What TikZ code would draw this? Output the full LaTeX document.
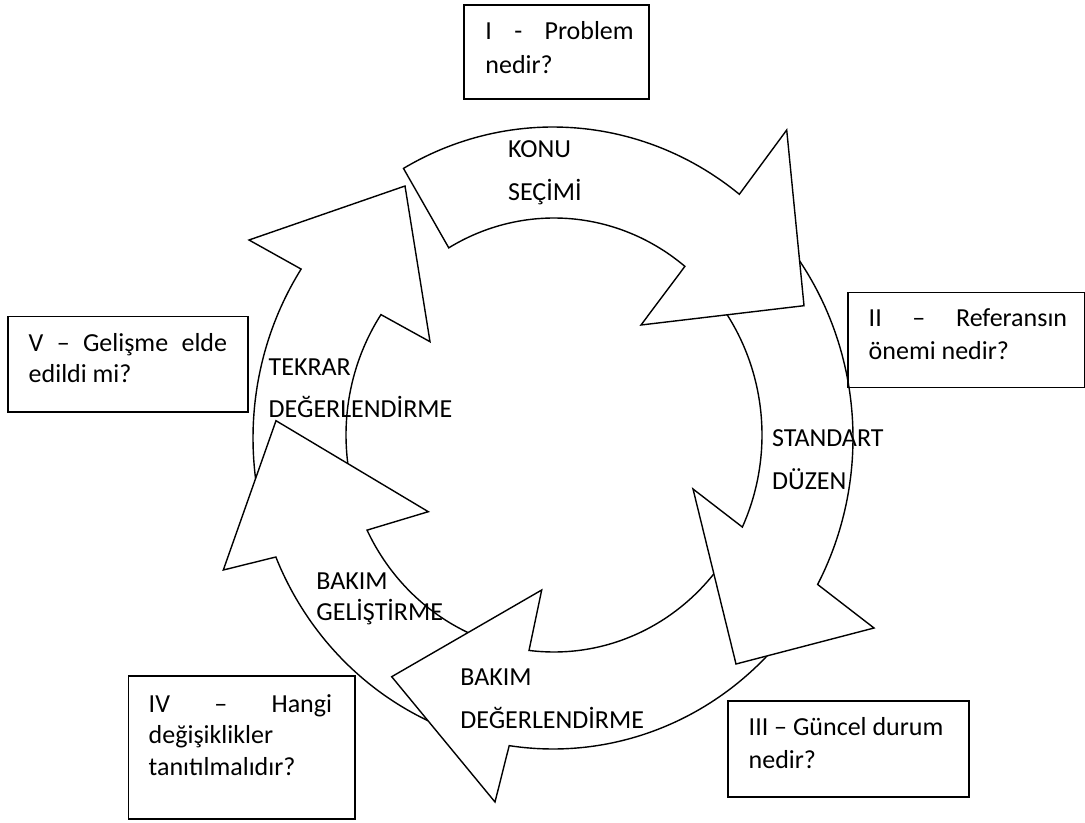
\documentclass[tikz,border=0pt]{standalone}
\usepackage{fontspec}
\setmainfont{Carlito}
\begin{document}
\begin{tikzpicture}[x=0.5pt,y=-0.5pt,
  ring/.style={draw=black, fill=white, line width=0.7pt, line join=miter, miter limit=10},
  box/.style={draw=black, line width=0.85pt, inner sep=0pt, anchor=north west},
  lbl/.style={anchor=base west, inner sep=0pt, font=\fontsize{13pt}{15pt}\selectfont},
]
\useasboundingbox (0,0) rectangle (1085,823);
\fill[white] (0,0) rectangle (1085,823);

% arrow heads: outer barb, tip, inner barb
\coordinate (tkOB) at (249,240);   \coordinate (tkTip) at (405,186);   \coordinate (tkIB) at (430,341.7);
\coordinate (bgOB) at (223.3,570); \coordinate (bgTip) at (276,420.7); \coordinate (bgIB) at (428.3,511.7);
\coordinate (bdOB) at (495,802);   \coordinate (bdTip) at (391.7,676.7); \coordinate (bdIB) at (541.7,590);
\coordinate (sdOB) at (874,628);   \coordinate (sdTip) at (736,664);   \coordinate (sdIB) at (693,489);
\coordinate (kOB) at (786.7,130);  \coordinate (kTip) at (804,305.7);  \coordinate (kIB) at (641,325);

% ring arrows, each tail tucked under the head of the arrow before it
\draw[ring] plot[domain=165:212.9, samples=60, variable=\x] ({553+300*cos(\x)},{438+311*sin(\x)})
  -- (tkOB) -- (tkTip) -- (tkIB)
  -- plot[domain=213.7:160, samples=60, variable=\x] ({554+208*cos(\x)},{435+217*sin(\x)}) -- cycle;
\draw[ring] plot[domain=108:157.5, samples=60, variable=\x] ({553+300*cos(\x)},{438+311*sin(\x)})
  -- (bgOB) -- (bgTip) -- (bgIB)
  -- plot[domain=154:105, samples=60, variable=\x] ({554+208*cos(\x)},{435+217*sin(\x)}) -- cycle;
\draw[ring] plot[domain=38:98.4, samples=60, variable=\x] ({553+300*cos(\x)},{438+311*sin(\x)})
  -- (bdOB) -- (bdTip) -- (bdIB)
  -- plot[domain=96.9:35, samples=60, variable=\x] ({554+208*cos(\x)},{435+217*sin(\x)}) -- cycle;
\draw[ring] plot[domain=-40:28.1, samples=60, variable=\x] ({553+300*cos(\x)},{438+311*sin(\x)})
  -- (sdOB) -- (sdTip) -- (sdIB)
  -- plot[domain=25.1:-40, samples=60, variable=\x] ({554+208*cos(\x)},{435+217*sin(\x)}) -- cycle;
\draw[ring] plot[domain=240.1:308.4, samples=60, variable=\x] ({553+300*cos(\x)},{438+311*sin(\x)})
  -- (kOB) -- (kTip) -- (kIB)
  -- plot[domain=309:239.6, samples=60, variable=\x] ({554+208*cos(\x)},{435+217*sin(\x)}) -- cycle;

% step labels
\node[lbl] (konuA) at (507.7,157.5) {KONU};
\node[lbl] (konuB) at (507.7,200.5) {SEÇİMİ};
\node[lbl] (stdA) at (771.7,446.7) {STANDART};
\node[lbl] (stdB) at (771.7,489.3) {DÜZEN};
\node[lbl] (bdA) at (460,685.7) {BAKIM};
\node[lbl] (bdB) at (460,728.3) {DEĞERLENDİRME};
\node[lbl] (bgA) at (316,589.5) {BAKIM};
\node[lbl] (bgB) at (316,620.5) {GELİŞTİRME};
\node[lbl] (tkA) at (268.3,375) {TEKRAR};
\node[lbl] (tkB) at (268.3,417.3) {DEĞERLENDİRME};

% question boxes
\node[box, minimum width=92.5pt, minimum height=47.15pt] (qI) at (463.3,4) {};
\node[box, minimum width=118.1pt, minimum height=47.5pt] (qII) at (847.3,291.7) {};
\node[box, minimum width=120.35pt, minimum height=48pt] (qIII) at (727.3,700) {};
\node[box, minimum width=113.15pt, minimum height=71.65pt] (qIV) at (127.7,675) {};
\node[box, minimum width=120pt, minimum height=47.65pt] (qV) at (7.3,315.7) {};

\node[lbl] (qIa) at (485,39.3) {\makebox[74.15pt][s]{I\hfill-\hfill Problem}};
\node[lbl] (qIb) at (485,74) {nedir?};
\node[lbl] (qIIa) at (868.3,326.7) {\makebox[99.2pt][s]{II\hfill–\hfill Referansın}};
\node[lbl] (qIIb) at (868.3,359.3) {önemi nedir?};
\node[lbl] (qIIIa) at (748.3,735.7) {III – Güncel durum};
\node[lbl] (qIIIb) at (748.3,768.3) {nedir?};
\node[lbl] (qIVa) at (148.3,712) {\makebox[91.7pt][s]{IV\hfill–\hfill Hangi}};
\node[lbl] (qIVb) at (148.3,743) {değişiklikler};
\node[lbl] (qIVc) at (148.3,775) {tanıtılmalıdır?};
\node[lbl] (qVa) at (28.3,351) {\makebox[99.2pt][s]{V\hfill–\hfill Gelişme\hfill elde}};
\node[lbl] (qVb) at (28.3,382.3) {edildi mi?};
\end{tikzpicture}
\end{document}
